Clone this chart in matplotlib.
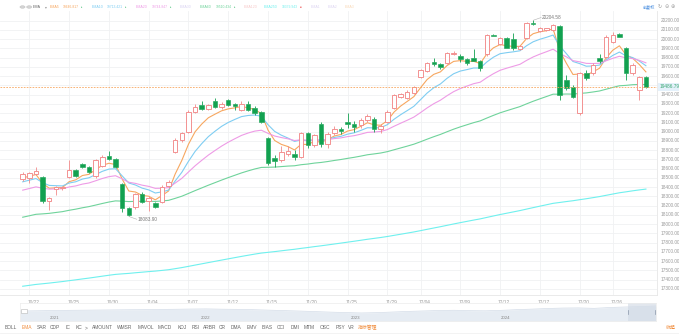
import matplotlib
matplotlib.use('Agg')
import matplotlib.pyplot as plt
from matplotlib.patches import Rectangle, Circle
import numpy as np

W, H = 679, 335

# half-day bars, 10/21 pm .. 12/30 pm
opens = [18489, 18500, 18543, 18511, 18251, 18381, 18392, 18511, 18586, 18651,
         18619, 18521, 18630, 18738, 18705, 18435, 18175, 18186, 18327, 18251,
         18230, 18240, 18413, 18781, 18911, 19000, 19213, 19290, 19250, 19330,
         19267, 19343, 19300, 19240, 19300, 19257, 19213, 18932, 18716, 18694,
         18760, 18760, 18730, 18990, 18857, 19080, 18870, 18990, 19030, 19100,
         19080, 19070, 19130, 19140, 19030, 19100, 19257, 19375, 19365, 19419,
         19592, 19657, 19754, 19732, 19743, 19840, 19819, 19786, 19797, 19765,
         19840, 20046, 19948, 20013, 20002, 19894, 20013, 20175, 20089, 20100,
         20100, 20143, 19559, 19483, 19203, 19635, 19635, 19797, 19808, 19970,
         20056, 19905, 19635, 19451, 19592]
highs = [18565, 18565, 18619, 18521, 18295, 18413, 18413, 18694, 18597, 18662,
         18630, 18705, 18748, 18792, 18716, 18446, 18186, 18338, 18349, 18305,
         18240, 18424, 18478, 18932, 19000, 19235, 19300, 19332, 19300, 19365,
         19320, 19354, 19311, 19330, 19330, 19278, 19225, 18943, 18748, 18846,
         18850, 18800, 18995, 19000, 18980, 19100, 19000, 19062, 19050, 19200,
         19120, 19150, 19190, 19160, 19080, 19230, 19408, 19419, 19451, 19494,
         19678, 19754, 19797, 19743, 19862, 19873, 19840, 19797, 19894, 19775,
         20056, 20056, 20024, 20024, 20067, 19938, 20186, 20204.58, 20132, 20110,
         20165, 20154, 19613, 19505, 19646, 19667, 19743, 19840, 20046, 20078,
         20067, 19916, 19743, 19602, 19602]
lows = [18467, 18446, 18532, 18230, 18154, 18316, 18370, 18500, 18511, 18608,
        18554, 18500, 18619, 18694, 18608, 18132, 18083.90, 18165, 18230, 18143,
        18175, 18230, 18392, 18770, 18889, 18990, 19203, 19240, 19230, 19257,
        19250, 19278, 19235, 19220, 19220, 19181, 19090, 18640, 18619, 18673,
        18740, 18690, 18720, 18824, 18830, 18830, 18820, 18960, 18980, 19040,
        19000, 19040, 19110, 19000, 18990, 19090, 19246, 19365, 19354, 19408,
        19581, 19646, 19711, 19678, 19732, 19829, 19754, 19721, 19765, 19657,
        19819, 20035, 19938, 19905, 19884, 19884, 20002, 20154, 20078, 20089,
        20089, 19343, 19451, 19365, 19181, 19559, 19613, 19740, 19797, 19959,
        20024, 19559, 19613, 19343, 19473]
closes = [18543, 18554, 18575, 18251, 18284, 18403, 18403, 18586, 18521, 18619,
          18565, 18694, 18727, 18705, 18619, 18175, 18100, 18327, 18240, 18284,
          18186, 18403, 18457, 18911, 18983, 19213, 19269, 19250, 19287, 19267,
          19299, 19289, 19281, 19300, 19231, 19203, 19108, 18662, 18680, 18780,
          18792, 18730, 18987, 18857, 18966, 18870, 18972, 19030, 19004, 19080,
          19055, 19130, 19174, 19030, 19060, 19218, 19397, 19408, 19429, 19483,
          19667, 19743, 19732, 19700, 19851, 19851, 19786, 19743, 19765, 19689,
          20046, 20040, 20013, 19905, 19905, 19927, 20175, 20165, 20121, 20116,
          20154, 19397, 19473, 19375, 19635, 19581, 19721, 19765, 20024, 20046,
          20024, 19635, 19721, 19592, 19486.79]

tick_idx = [1, 7, 13, 19, 25, 31, 37, 43, 49, 55, 60, 66, 72, 78, 84, 89]
tick_text = ['10/22', '10/25', '10/30', '11/04', '11/07', '11/12', '11/15', '11/20',
             '11/25', '11/29', '12/04', '12/09', '12/12', '12/17', '12/20', '12/26']

# EMA lines: period, value before first bar, colour, active
ema_cfg = [
    ('EMA5', 5, 18480, '#f7a760', True),
    ('EMA10', 10, 18440, '#7fcdf2', True),
    ('EMA20', 20, 18350, '#ee9be6', True),
    ('EMA30', 30, None, '#d9d2f2', False),
    ('EMA60', 60, 18060, '#6fd39b', True),
    ('EMA120', 120, None, '#f7c9c9', False),
    ('EMA250', 250, 17320, '#6ff0ee', True),
]

# long history for the range slider (index points)
nav_close = [13000, 13300, 13600, 13900, 14100, 14300, 14500, 14700, 14800, 15100,
             15300, 15600, 15800, 15400, 15200, 14800, 14200, 13600, 13000, 12300,
             11600, 11000, 10500, 10900, 11700, 12500, 13100, 13700, 14000, 13500,
             13300, 13900, 14800, 15500, 16300, 16900, 17100, 16500, 17600, 18300,
             18800, 19600]
nav_years = ['2021', '2022', '2023', '2024']

tabs = ['BOLL', 'EMA', 'SAR', 'CDP', 'IC', 'KC', '>', 'AMOUNT', 'WMSR', 'MAVOL',
        'MACD', 'KDJ', 'RSI', 'ARBR', 'CR', 'DMA', 'EMV', 'BIAS', 'CCI', 'DMI',
        'MTM', 'OSC', 'PSY', 'VR', '指标管理']

UP = '#f28a8a'
DOWN = '#12a150'
GRID = '#f0f1f3'
LABEL = '#9a9a9a'

plt.rcParams['font.family'] = ['Liberation Sans', 'DejaVu Sans', 'Noto Sans CJK SC']


def ema(values, period, seed):
    k = 2 / (period + 1)
    out, prev = [], seed
    for v in values:
        prev = prev + k * (v - prev)
        out.append(prev)
    return out


def px(x, y):
    return x / W, 1 - y / H


fig = plt.figure(figsize=(W / 100, H / 100), dpi=100)
fig.patch.set_facecolor('white')

# ---- main candle pane
top_px, bot_px, right_px = 11, 295, 657
ax = fig.add_axes([0, 1 - bot_px / H, right_px / W, (bot_px - top_px) / H])
step = 6.63
x0 = 22.7
ax.set_xlim(-x0 / step, (right_px - x0) / step)
ax.set_ylim(20424 - 10.81 * bot_px, 20424 - 10.81 * top_px)
for s in ax.spines.values():
    s.set_visible(False)
ax.set_xticks([])
ax.set_yticks([])

levels = np.arange(17300, 20201, 100)
for lv in levels:
    ax.axhline(lv, color=GRID, lw=0.6, zorder=0)
for t in tick_idx:
    ax.axvline(t, color=GRID, lw=0.6, zorder=0)

n = len(closes)
xs = np.arange(n)
bw = 0.68
for i in range(n):
    o, h, l, c = opens[i], highs[i], lows[i], closes[i]
    up = c >= o
    col = UP if up else DOWN
    lo_b, hi_b = min(o, c), max(o, c)
    ax.plot([i, i], [hi_b, h], color=col, lw=0.6, zorder=3, solid_capstyle='butt')
    ax.plot([i, i], [l, lo_b], color=col, lw=0.6, zorder=3, solid_capstyle='butt')
    hgt = max(hi_b - lo_b, 3)
    if up:
        ax.add_patch(Rectangle((i - bw / 2, lo_b), bw, hgt, facecolor='white',
                               edgecolor=col, lw=0.65, zorder=4))
    else:
        ax.add_patch(Rectangle((i - bw / 2, lo_b), bw, hgt, facecolor=col,
                               edgecolor=col, lw=0.4, zorder=4))

ema_last = {}
for name, period, seed, col, active in ema_cfg:
    if not active:
        continue
    line = ema(closes, period, seed)
    ema_last[name] = line[-1]
    ax.plot(xs, line, color=col, lw=0.8, zorder=2)

# latest price line
last = closes[-1]
ax.axhline(last, color='#f7a760', lw=0.6, ls=(0, (2, 1.5)), zorder=5)

# highest / lowest marks
hi_i = int(np.argmax(highs))
lo_i = int(np.argmin(lows))
ax.plot([hi_i, hi_i + 1.2], [highs[hi_i], highs[hi_i] + 30], color='#b0b0b0', lw=0.4, zorder=6)
ax.text(hi_i + 1.3, highs[hi_i] + 35, f'{highs[hi_i]:.2f}', fontsize=3.4, color='#777777',
        ha='left', va='center', zorder=6)
ax.plot([lo_i, lo_i + 1.2], [lows[lo_i], lows[lo_i] - 30], color='#b0b0b0', lw=0.4, zorder=6)
ax.text(lo_i + 1.3, lows[lo_i] - 35, f'{lows[lo_i]:.2f}', fontsize=3.4, color='#777777',
        ha='left', va='center', zorder=6)

# right price scale
fig.add_artist(plt.Line2D([right_px / W] * 2, [1 - bot_px / H, 1 - top_px / H],
                          color='#e6e6e6', lw=0.6))
fig.add_artist(plt.Line2D([0, right_px / W], [1 - bot_px / H] * 2, color='#e6e6e6', lw=0.6))
ytrans = ax.get_yaxis_transform()
for lv in levels:
    ax.text(1.005, lv, f'{lv:.2f}', transform=ytrans, fontsize=3.4, color=LABEL,
            ha='left', va='center', clip_on=False)
ax.text(1.004, last, f'{last:.2f}', transform=ytrans, fontsize=3.4, color='#3aa872',
        ha='left', va='center', clip_on=False, zorder=10,
        bbox=dict(boxstyle='square,pad=0.35', fc='#e4f1fb', ec='none'))

# date labels
for t, lab in zip(tick_idx, tick_text):
    ax.text(t + 0.6, -0.018, lab, transform=ax.get_xaxis_transform(), fontsize=3.4,
            color=LABEL, ha='center', va='top', clip_on=False)

# ---- range slider
nx0, nx1, ny0, ny1 = 20, 656, 303, 321
nav = fig.add_axes([nx0 / W, 1 - ny1 / H, (nx1 - nx0) / W, (ny1 - ny0) / H])
nav_x = np.arange(len(nav_close))
nav.fill_between(nav_x, 0, nav_close, color='#e6ecf3', lw=0)
nav.plot(nav_x, nav_close, color='#d3dce8', lw=0.5)
nav.set_xlim(0, len(nav_close) - 1)
nav.set_ylim(0, 23500)
nav.set_xticks([])
nav.set_yticks([])
for s in nav.spines.values():
    s.set_color('#ececec')
    s.set_linewidth(0.5)
for k, yr in enumerate(nav_years):
    nav.text(0.055 + 0.236 * k, 0.15, yr, transform=nav.transAxes, fontsize=3.2,
             color='#888888', ha='center', va='center')
nav.axvspan(len(nav_close) - 1 - 1.8, len(nav_close) - 1, color='#cfd8e4', alpha=0.6, lw=0)
for xv in (len(nav_close) - 2.8, len(nav_close) - 1.05):
    nav.plot([xv, xv], [9000, 14000], color='#8a96a8', lw=0.5)
fig.add_artist(Rectangle(px(20.5, 313), 6 / W, 4 / H, transform=fig.transFigure,
                         fc='white', ec='#b8b8b8', lw=0.4))

# ---- indicator tabs
tab_x = [11, 26.7, 41.7, 55.3, 67.7, 79, 86, 102, 125, 145.8, 165, 182.5, 195.3, 209.5,
         222.5, 235.8, 251.7, 266.7, 281.3, 294.7, 309.5, 325, 340, 351, 368]
for xv, lab in zip(tab_x, tabs):
    col = '#f08c3c' if lab in ('EMA', '指标管理') else '#666666'
    fig.text(*px(xv, 327.5), lab, fontsize=3.5, color=col, ha='center', va='center')
fig.text(*px(671, 327.5), '收起', fontsize=3.5, color='#f08c3c', ha='center', va='center')
fig.add_artist(plt.Line2D([0, 1], [1 - 333 / H] * 2, color='#eeeeee', lw=0.5))

# ---- header row
for cx in (22.5, 29.2):
    fig.add_artist(Circle(px(cx, 7), 2.6 / W, transform=fig.transFigure,
                          fc='#d4d4d4', ec='#bdbdbd', lw=0.3))
fig.text(*px(33, 7), 'EMA', fontsize=2.7, color='#666666', va='center')
fig.text(*px(45, 7), '▾', fontsize=2.7, color='#999999', va='center')
head = [('EMA5', 50, 63), ('EMA10', 92, 107), ('EMA20', 136, 152), ('EMA30', 180, None),
        ('EMA60', 200, 216), ('EMA120', 244, None), ('EMA250', 264, 282)]
cfg = {c[0]: c for c in ema_cfg}
for name, xn, xv in head:
    col = cfg[name][3]
    fig.text(*px(xn, 7), name, fontsize=2.6, color=col, va='center')
    if xv is not None:
        fig.text(*px(xv, 7), f'{ema_last[name]:.3f}', fontsize=2.4, color=col, va='center')
        mark_col = '#f07070' if name == 'EMA250' else '#4cc27a'
        fig.text(*px(xv + 17.5, 7), '■' if name == 'EMA250' else '▸', fontsize=2.0,
                 color=mark_col, va='center')
for lab, xv, col in (('EMA1', 311, '#ddd5f2'), ('EMA2', 328, '#ddd5f2'), ('EMA3', 345, '#f9d9b8')):
    fig.text(*px(xv, 7), lab, fontsize=2.6, color=col, va='center')
fig.text(*px(643, 7), '前复权', fontsize=3, color='#4a8fe0', va='center',
         family=['Noto Sans CJK SC', 'DejaVu Sans'])
for xv, g in ((660, '↻'), (666.5, '⊖'), (673, '⊕')):
    fig.text(*px(xv, 7), g, fontsize=3.6, color='#a0a0a0', ha='center', va='center',
             family=['DejaVu Sans'])

fig.savefig('out.png', dpi=100, facecolor='white')
